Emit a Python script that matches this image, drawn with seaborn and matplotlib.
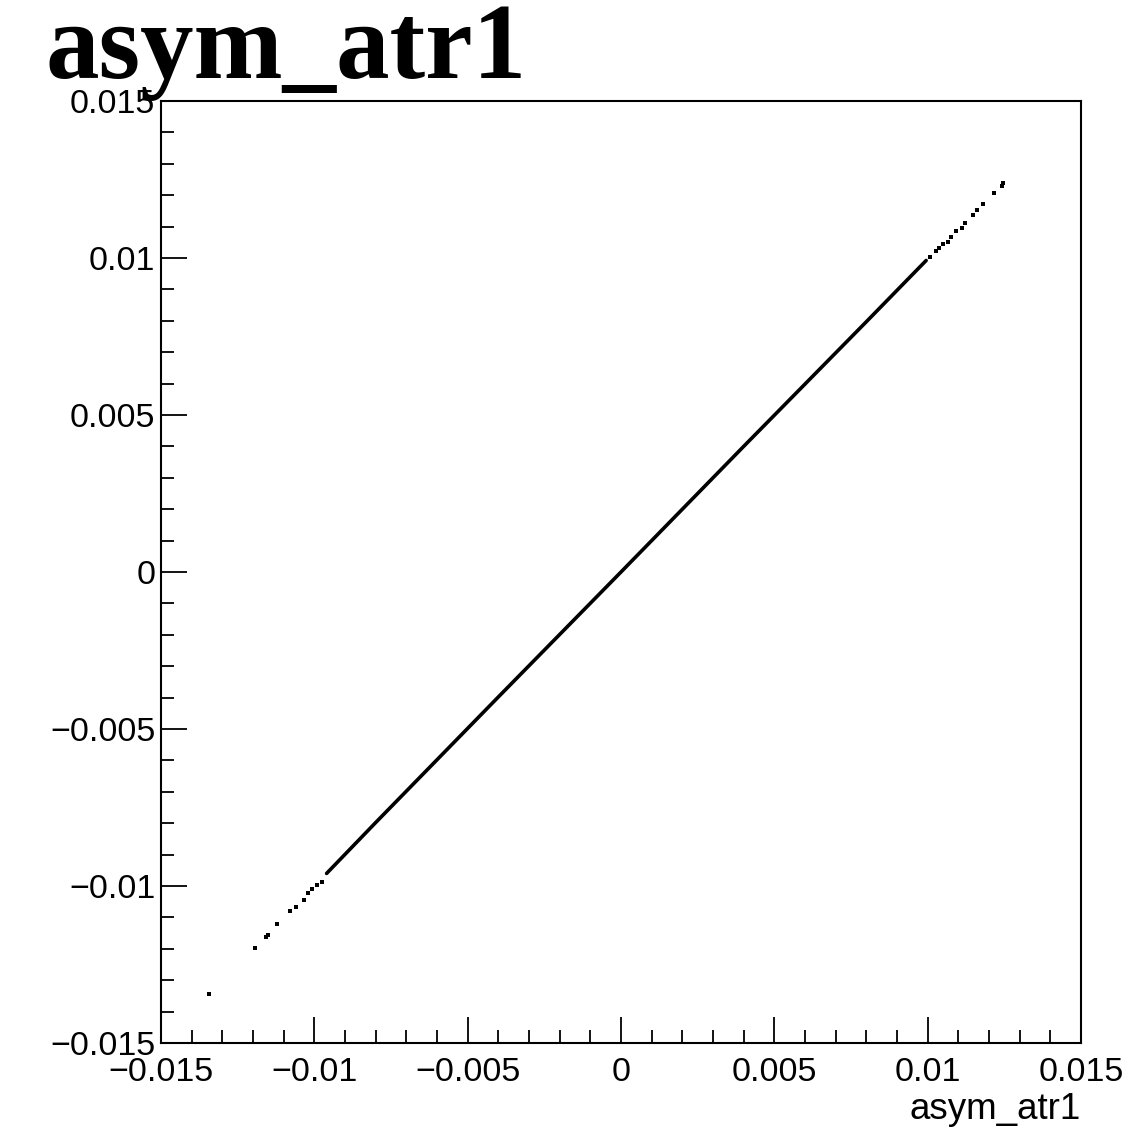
import matplotlib
matplotlib.use("Agg")
import matplotlib.pyplot as plt
from matplotlib.ticker import FixedLocator, FixedFormatter, MultipleLocator
import seaborn as sns
import pandas as pd

# Densely populated band of entries, traced through its breakpoints
core_x = [-0.00960, -0.00800, -0.00400, 0.00000, 0.00400, 0.00800, 0.00995]
core_y = [-0.00960, -0.00798, -0.00398, 0.00000, 0.00400, 0.00797, 0.00992]

# Isolated entries in the two tails
tail_x = [-0.01342, -0.01193, -0.01158, -0.01150, -0.01123, -0.01079, -0.01060,
          -0.01034, -0.01020, -0.01009, -0.00992, -0.00976,
          0.01008, 0.01027, 0.01038, 0.01051, 0.01067, 0.01076, 0.01092,
          0.01111, 0.01122, 0.01147, 0.01162, 0.01181, 0.01216, 0.01241, 0.01247]
tail_y = [-0.01344, -0.01198, -0.01163, -0.01156, -0.01121, -0.01080, -0.01068,
          -0.01045, -0.01021, -0.01011, -0.00997, -0.00986,
          0.01004, 0.01023, 0.01031, 0.01044, 0.01052, 0.01068, 0.01086,
          0.01095, 0.01112, 0.01137, 0.01153, 0.01172, 0.01206, 0.01229, 0.01238]

tick_values = [-0.015, -0.01, -0.005, 0.0, 0.005, 0.01, 0.015]
tick_labels = ["\u22120.015", "\u22120.01", "\u22120.005", "0", "0.005", "0.01", "0.015"]

title_text = "asym_atr1"
xlabel_text = "asym_atr1"

sns.set_theme(style="white")
plt.rcParams["font.family"] = ["Liberation Sans", "DejaVu Sans"]

fig = plt.figure(figsize=(11.46, 11.41), dpi=100)
ax = fig.add_axes([0.1405, 0.0859, 0.8028, 0.8256])

core = pd.DataFrame({"x": core_x, "y": core_y})
tail = pd.DataFrame({"x": tail_x, "y": tail_y})

sns.lineplot(data=core, x="x", y="y", ax=ax, color="black", linewidth=2.6,
             sort=False, estimator=None)
sns.scatterplot(data=tail, x="x", y="y", ax=ax, color="black", s=5,
                marker="s", linewidth=0)

ax.set_xlim(-0.015, 0.015)
ax.set_ylim(-0.015, 0.015)

for axis in (ax.xaxis, ax.yaxis):
    axis.set_major_locator(FixedLocator(tick_values))
    axis.set_major_formatter(FixedFormatter(tick_labels))
    axis.set_minor_locator(MultipleLocator(0.001))

ax.tick_params(which="both", direction="in", color="black", width=1.3,
               top=False, right=False, bottom=True, left=True)
ax.tick_params(which="major", length=19, labelsize=24.5, labelcolor="black")
ax.tick_params(which="minor", length=9.5)
ax.tick_params(axis="x", which="major", pad=10)
ax.tick_params(axis="y", which="major", pad=4)

for spine in ax.spines.values():
    spine.set_visible(True)
    spine.set_color("black")
    spine.set_linewidth(1.5)

ax.set_xlabel("")
ax.set_ylabel("")
ax.grid(False)

fig.text(0.9433, 0.0193, xlabel_text, ha="right", va="baseline",
         fontsize=26.5, color="black", family=["Liberation Sans", "DejaVu Sans"])
fig.text(0.040, 0.9316, title_text, ha="left", va="baseline",
         fontsize=77, fontweight="bold", color="black",
         family=["Liberation Serif", "DejaVu Serif"])

fig.savefig("out.png", dpi=100, facecolor="white")
